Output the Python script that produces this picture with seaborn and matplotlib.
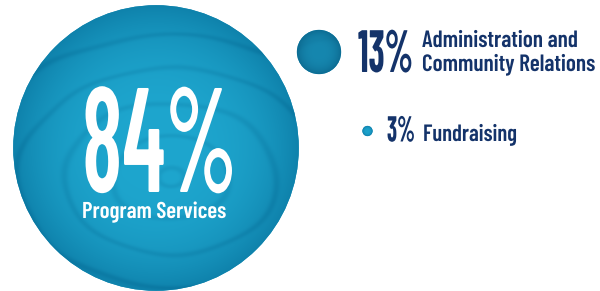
"""Expense breakdown bubbles."""

import matplotlib.pyplot as plt
import numpy as np
import pandas as pd
import seaborn as sns
from matplotlib.colors import to_rgb
from matplotlib.patches import Circle
from matplotlib.patheffects import AbstractPathEffect
from matplotlib.transforms import Affine2D

# data
categories = ["Program Services", "Administration and\nCommunity Relations", "Fundraising"]
shares = [84, 13, 3]
# bubble centres (pixel layout)
centre_x = [156, 319, 367.5]
centre_y = [148, 52, 131]

PX_PER_PCT = 1.7  # bubble radius in px per percent
TEAL = "#1592bb"
NAVY = "#14336a"
# (centre, rim) colour of each bubble
TONES = [("#1ea6ce", "#0a76a0"), ("#1687af", "#0a6389"), ("#1ca2cb", "#0a72a0")]
FONT = ["Barlow Condensed", "Roboto Condensed", "DejaVu Sans"]


class Squeeze(AbstractPathEffect):
    """Narrow the glyphs horizontally (the reference uses a tighter face)."""

    def __init__(self, sx, x0):
        super().__init__()
        self.sx, self.x0 = sx, x0

    def draw_path(self, renderer, gc, tpath, affine, rgbFace=None):
        squeeze = Affine2D().translate(-self.x0, 0).scale(self.sx, 1).translate(self.x0, 0)
        renderer.draw_path(gc, tpath, affine + squeeze, rgbFace)


df = pd.DataFrame({"category": categories, "share": shares, "x": centre_x, "y": centre_y})
df["radius"] = df["share"] * PX_PER_PCT

sns.set_theme(style="white")
plt.rcParams["font.family"] = FONT

fig = plt.figure(figsize=(6.0, 2.91), dpi=100)
ax = fig.add_axes([0, 0, 1, 1])
ax.set_xlim(0, 600)
ax.set_ylim(291, 0)
ax.set_aspect("equal")
ax.axis("off")

# base bubbles; marker area in pt^2 from diameter in px
pt_per_px = 72 / fig.dpi
sns.scatterplot(data=df, x="x", y="y", s=(2 * df["radius"] * pt_per_px) ** 2,
                color=TEAL, edgecolor="none", legend=False, ax=ax, zorder=1)

# water texture on top of each bubble
yy, xx = np.mgrid[0:291, 0:600] + 0.5
for (_, row), (c_light, c_dark) in zip(df.iterrows(), TONES):
    light = np.array(to_rgb(c_light))
    dark = np.array(to_rgb(c_dark))
    r = np.hypot(xx - row.x, yy - row.y) / row.radius
    shade = np.clip(r, 0, 1) ** 3
    rings = np.hypot(xx - row.x - 15, (yy - row.y - 30) * 1.4)
    wobble = np.sin(xx / 23.0) * np.cos(yy / 17.0) * 3
    ripple = np.clip(np.sin((rings + wobble) / 7.5), 0, 1) ** 8 * 0.22
    if row.share < 50:
        ripple = ripple * 0.3
    t = np.clip(shade * 0.75 + ripple, 0, 1)[..., None]
    img = light * (1 - t) + dark * t
    im = ax.imshow(img, extent=(0, 600, 291, 0), zorder=2, interpolation="bilinear")
    im.set_clip_path(Circle((row.x, row.y), row.radius, transform=ax.transData))

# texts: (string, left x, baseline y, size, weight, colour, target width px)
big = df.iloc[0]
admin = df.iloc[1]
fund = df.iloc[2]
admin_lines = admin.category.split("\n")
labels = [
    (f"{big.share}%", 82, 192, 107, 600, "white", 155),
    (big.category, 82, 218, 16.5, 600, "white", 148),
    (f"{admin.share}%", 358, 72, 43, 700, NAVY, 55),
    (admin_lines[0], 422, 47, 17, 600, NAVY, 156),
    (admin_lines[1], 422, 71, 17, 600, NAVY, 173),
    (f"{fund.share}%", 387, 141.5, 26, 700, NAVY, 28),
    (fund.category, 423, 141, 17, 600, NAVY, 94),
]
texts = []
for s, x0, base, size, weight, colour, width in labels:
    t = ax.text(x0, base, s, color=colour, fontsize=size, fontweight=weight,
                ha="left", va="baseline", zorder=3)
    texts.append((t, width))

fig.canvas.draw()
for t, width in texts:
    bb = t.get_window_extent()
    t.set_path_effects([Squeeze(min(1.0, width / bb.width), bb.x0)])

fig.savefig("out.png", dpi=100)
